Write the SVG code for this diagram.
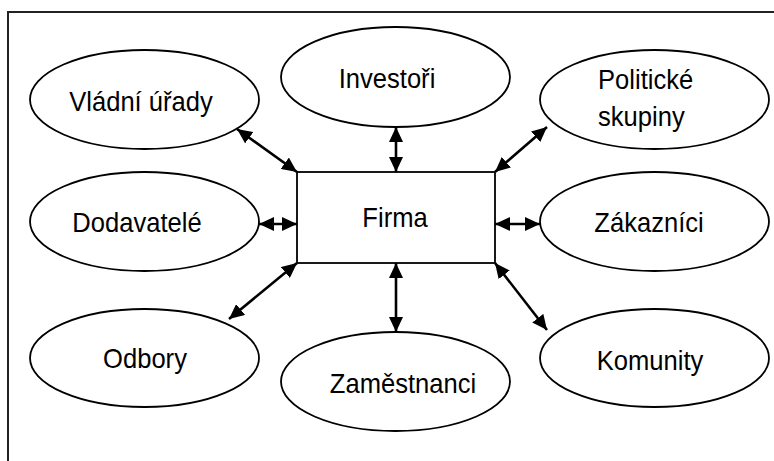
<svg xmlns="http://www.w3.org/2000/svg" width="774" height="461" viewBox="0 0 774 461">
<style>
.node ellipse, .node rect { fill: #fff; stroke: #000; stroke-width: 1.8; }
.node text { font-family: "Liberation Sans", Arial, sans-serif; font-size: 27.5px; fill: #000; text-anchor: middle; }
.node text.l { text-anchor: start; }
.conn line { stroke: #000; stroke-width: 2.6; marker-start: url(#ah); marker-end: url(#ah); }
.frame { stroke: #222; stroke-width: 2; fill: none; }
</style>
<defs>
<marker id="ah" markerUnits="userSpaceOnUse" markerWidth="15" markerHeight="14" refX="15" refY="7" orient="auto-start-reverse">
<path d="M0,0 L15,7 L0,14 Z" fill="#000"/>
</marker>
</defs>
<rect x="0" y="0" width="774" height="461" fill="#fff"/>
<path class="frame" d="M8,461 L8,12 L774,12"/>
<g id="firma" class="node"><rect x="297" y="172" width="198" height="91"/><text transform="translate(395,227) scale(0.93,1)">Firma</text></g>
<g id="vladni" class="node"><ellipse cx="144.5" cy="99.5" rx="114.5" ry="49.5"/><text transform="translate(141,111) scale(0.93,1)">Vládní úřady</text></g>
<g id="investori" class="node"><ellipse cx="395.5" cy="77" rx="114.5" ry="50"/><text transform="translate(387,88) scale(0.93,1)">Investoři</text></g>
<g id="politicke" class="node"><ellipse cx="654.5" cy="99.5" rx="114.5" ry="49.5"/><text class="l" transform="translate(598,89) scale(0.93,1)">Politické</text><text class="l" transform="translate(598,126) scale(0.93,1)">skupiny</text></g>
<g id="dodavatele" class="node"><ellipse cx="144.5" cy="221.5" rx="114.5" ry="49.5"/><text transform="translate(137,232) scale(0.93,1)">Dodavatelé</text></g>
<g id="zakaznici" class="node"><ellipse cx="654.5" cy="221.5" rx="114.5" ry="49.5"/><text transform="translate(649,232) scale(0.93,1)">Zákazníci</text></g>
<g id="odbory" class="node"><ellipse cx="144.5" cy="358" rx="114.5" ry="49"/><text transform="translate(145,368) scale(0.93,1)">Odbory</text></g>
<g id="zamestnanci" class="node"><ellipse cx="395.5" cy="381.5" rx="114.5" ry="49.5"/><text transform="translate(403,393) scale(0.93,1)">Zaměstnanci</text></g>
<g id="komunity" class="node"><ellipse cx="654.5" cy="358" rx="114.5" ry="49"/><text transform="translate(650,370) scale(0.93,1)">Komunity</text></g>
<g id="connectors" class="conn">
<line x1="237" y1="129" x2="297" y2="172"/>
<line x1="396" y1="127" x2="396" y2="172"/>
<line x1="547" y1="127" x2="495" y2="172"/>
<line x1="259" y1="224" x2="297" y2="224"/>
<line x1="495" y1="224" x2="540" y2="224"/>
<line x1="297" y1="263" x2="229" y2="319"/>
<line x1="396" y1="263" x2="396" y2="332"/>
<line x1="495" y1="263" x2="547" y2="330"/>
</g>
</svg>
